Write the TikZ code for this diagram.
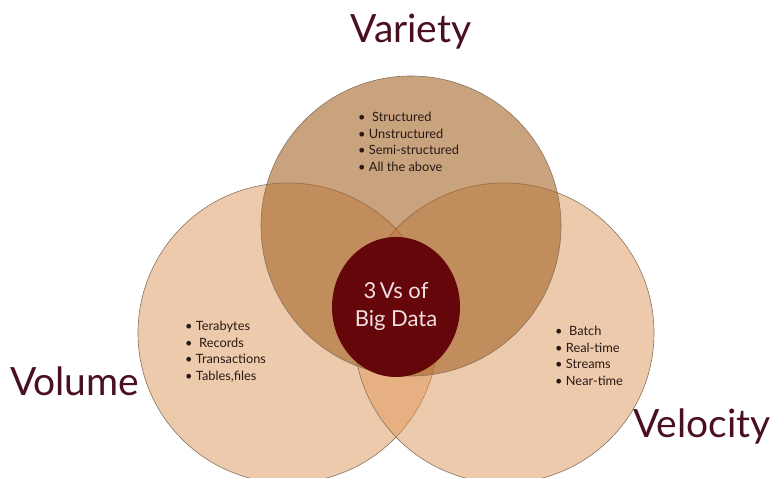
\documentclass[tikz,border=0pt]{standalone}
\usepackage{fontspec}
\setmainfont{Lato}
\usepackage{xcolor}
\usepackage{tikz}
\usetikzlibrary{shapes.geometric}

\definecolor{labelred}{RGB}{74,16,32}
\definecolor{peach}{RGB}{222,150,90}
\definecolor{tanbrown}{RGB}{165,100,40}
\definecolor{bigdata}{RGB}{100,6,10}
\definecolor{corefg}{RGB}{242,222,226}
\definecolor{edgegrey}{RGB}{135,115,95}
\definecolor{listink}{RGB}{40,25,20}

\tikzset{
  vcircle/.style={circle, draw=edgegrey, line width=0.6pt, inner sep=0pt, minimum size=300pt, fill opacity=0.5},
  vlabel/.style={text=labelred, font=\fontsize{39}{39}\selectfont, inner sep=0pt},
  vlist/.style={text=listink, font=\fontsize{12.8}{16.5}\selectfont, align=left, inner sep=0pt, anchor=north west}
}

\begin{document}
\begin{tikzpicture}[x=1pt,y=-1pt]
\useasboundingbox (0,0) rectangle (776,478);

% the three Vs
\node[vcircle, fill=peach] (volume) at (288,333) {};
\node[vcircle, fill=peach] (velocity) at (504,333) {};
\node[vcircle, fill=tanbrown, fill opacity=0.6] (variety) at (411,226) {};

\node[ellipse, fill=bigdata, minimum width=128pt, minimum height=140pt, inner sep=0pt] (core) at (396,307) {};
\node[text=corefg, align=center, font=\fontsize{22}{28}\selectfont] (coretext) at (core) {3\,Vs of\\Big Data};

% labels
\node[vlabel, anchor=base] (varietylabel) at (411,43) {Variety};
\node[vlabel, anchor=base west] (volumelabel) at (10,395) {Volume};
\node[vlabel, anchor=base east] (velocitylabel) at (771,437) {Velocity};

% lists
\node[vlist] (varietylist) at (358,112) {•\ \ Structured\\• Unstructured\\• Semi-structured\\• All the above};
\node[vlist] (volumelist) at (185,321) {• Terabytes\\•\ \ Records\\• Transactions\\• Tables,files};
\node[vlist] (velocitylist) at (555,326) {•\ \ Batch\\• Real-time\\• Streams\\• Near-time};
\end{tikzpicture}
\end{document}
